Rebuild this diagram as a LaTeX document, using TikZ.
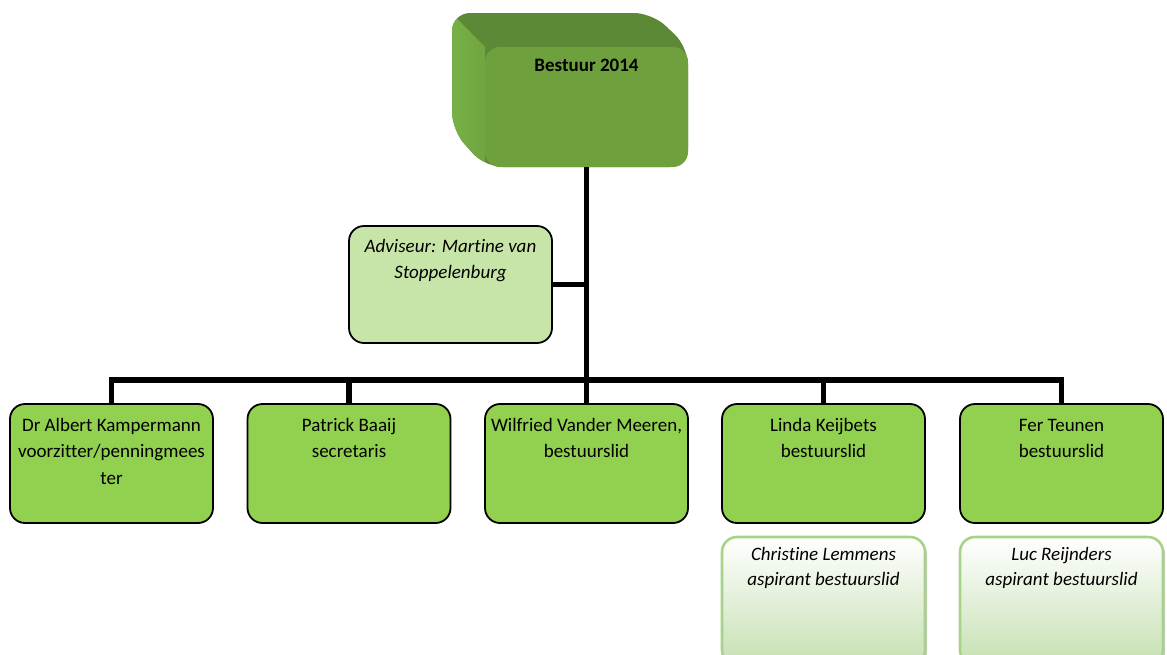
\documentclass[tikz,border=0pt]{standalone}
\usepackage{fontspec}
\setmainfont[Ligatures={NoCommon,NoContextual,NoRare}]{Carlito}
\usetikzlibrary{shadows}
\definecolor{frontgreen}{HTML}{6FA03E}
\definecolor{topdark}{HTML}{5B8935}
\definecolor{sidelight}{HTML}{7CB84B}
\definecolor{sidemid}{HTML}{70A540}
\definecolor{memberfill}{HTML}{92D050}
\definecolor{advfill}{HTML}{C7E5A8}
\definecolor{aspborder}{HTML}{A6D388}
\definecolor{aspbottom}{HTML}{C6E0B2}
\newcommand{\boxtxt}[4]{\parbox[c][#2pt][t]{#1pt}{\centering\rule{0pt}{#3pt}#4}}
\begin{document}
\begin{tikzpicture}[x=1pt,y=-1pt,line join=miter,
  font={\fontsize{19}{26.5}\selectfont},
  conn/.style={line width=5.5pt,draw=black},
  member/.style={draw=black,line width=1.8pt,fill=memberfill,rounded corners=15pt,inner sep=0pt},
  advbox/.style={draw=black,line width=1.8pt,fill=advfill,rounded corners=15pt,inner sep=0pt},
  aspbox/.style={draw=aspborder,line width=2.6pt,top color=white,bottom color=aspbottom,rounded corners=15pt,inner sep=0pt,
     drop shadow={shadow xshift=2pt,shadow yshift=-2pt,opacity=.35,fill=black!60}},
  topfront/.style={fill=frontgreen,rounded corners=15pt,inner sep=0pt}]
\useasboundingbox (0,0) rectangle (1167,654);
% 3D top box: back/side faces
\begin{scope}
\path[clip,rounded corners=18pt] (452,13) -- (652,13) -- (688,47) -- (688,167) -- (485,167) -- (452,130) -- cycle;
\fill[topdark] (430,0) rectangle (700,180);
\shade[left color=sidelight,right color=sidemid] (430,-9) -- (485,47) -- (485,200) -- (430,200) -- cycle;
\end{scope}
\node[topfront] (top) at (586.5,107) {\boxtxt{203}{120}{24}{\bfseries Bestuur 2014}};
% members
\node[advbox] (adv) at (450.5,284.5) {\boxtxt{203}{117}{26}{\itshape Adviseur: Martine van\\Stoppelenburg}};
\node[member] (b1) at (111.5,463.5) {\boxtxt{203}{119}{27}{Dr Albert Kampermann\\voorzitter/penningmees\\ter}};
\node[member] (b2) at (349,463.5) {\boxtxt{203}{119}{27}{Patrick Baaij\\secretaris}};
\node[member] (b3) at (586.5,463.5) {\boxtxt{203}{119}{27}{Wilfried Vander Meeren,\\bestuurslid}};
\node[member] (b4) at (823.5,463.5) {\boxtxt{203}{119}{27}{Linda Keijbets\\bestuurslid}};
\node[member] (b5) at (1061.5,463.5) {\boxtxt{203}{119}{27}{Fer Teunen\\bestuurslid}};
\node[aspbox] (a4) at (823.5,601) {\boxtxt{203}{128}{23}{\itshape\baselineskip=25pt Christine Lemmens\\aspirant bestuurslid}};
\node[aspbox] (a5) at (1061.5,601) {\boxtxt{203}{128}{23}{\itshape\baselineskip=25pt Luc Reijnders\\aspirant bestuurslid}};
% connectors
\coordinate (bus) at (586.5,380);
\draw[conn] (top.south) -- (bus);
\draw[conn] (adv.east) -- (adv.east -| top.south);
\draw[conn] (b1.north) |- (bus) -| (b5.north);
\draw[conn] (b2.north) -- (b2.north |- bus);
\draw[conn] (b3.north) -- (b3.north |- bus);
\draw[conn] (b4.north) -- (b4.north |- bus);
\end{tikzpicture}
\end{document}
